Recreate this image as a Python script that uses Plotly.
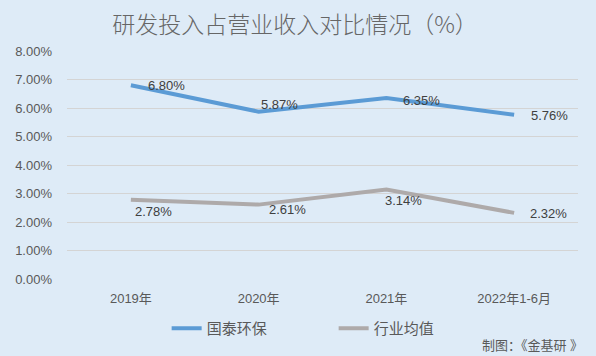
import plotly.graph_objects as go

categories = ["2019年", "2020年", "2021年", "2022年1-6月"]
guotai = [6.80, 5.87, 6.35, 5.76]
industry = [2.78, 2.61, 3.14, 2.32]
y_ticks = [0, 1, 2, 3, 4, 5, 6, 7, 8]
y_tick_labels = ["%.2f%%" % v for v in y_ticks]

BLUE = "#5B9BD5"
GRAY = "#AEAAAA"
TXT = "#595959"
BG = "#DEEBF7"
FONT = "Liberation Sans, Noto Sans CJK SC"

fig = go.Figure()
fig.add_trace(go.Scatter(x=categories, y=guotai, mode="lines", name="国泰环保",
                         line=dict(color=BLUE, width=4)))
fig.add_trace(go.Scatter(x=categories, y=industry, mode="lines", name="行业均值",
                         line=dict(color=GRAY, width=4)))

# label offsets (pixels) relative to each point
blue_off = [(15, 0), (0, 7), (15, -2), (15, -1)]
gray_off = [(2, -12), (8, -5), (-3, -11), (14, -1)]
ann = []
for c, v, (dx, dy) in zip(categories, guotai, blue_off):
    ann.append(dict(x=c, y=v, text="%.2f%%" % v, showarrow=False, xanchor="left",
                    yanchor="middle", xshift=dx, yshift=dy,
                    font=dict(size=13, color="#404040", family=FONT)))
for c, v, (dx, dy) in zip(categories, industry, gray_off):
    ann.append(dict(x=c, y=v, text="%.2f%%" % v, showarrow=False, xanchor="left",
                    yanchor="middle", xshift=dx, yshift=dy,
                    font=dict(size=13, color="#404040", family=FONT)))
ann.append(dict(x=1, y=0, xref="paper", yref="paper", xanchor="right", yanchor="middle",
                xshift=7, yshift=-66, text="制图：《金基研 》", showarrow=False,
                font=dict(size=13, color=TXT, family=FONT)))

fig.update_layout(
    width=596, height=356,
    paper_bgcolor=BG, plot_bgcolor=BG,
    margin=dict(l=67, r=18, t=51, b=76),
    title=dict(text="研发投入占营业收入对比情况（%）", x=0.495, xanchor="center",
               y=0.93, yanchor="middle",
               font=dict(size=23, color="#666666", family="Noto Sans CJK SC", weight=300)),
    xaxis=dict(showgrid=False, showline=False, zeroline=False, ticks="",
               tickfont=dict(size=13, color=TXT, family=FONT),
               ticklabelstandoff=10,
               range=[-0.5, 3.5]),
    yaxis=dict(range=[0, 8], tickvals=y_ticks, ticktext=y_tick_labels,
               showgrid=True, gridcolor="#D4D4D4", gridwidth=1, zeroline=False,
               ticklabelstandoff=14,
               ticks="", tickfont=dict(size=13, color=TXT, family=FONT)),
    legend=dict(orientation="h", x=0.195, xanchor="left", y=-0.14, yanchor="top",
                font=dict(size=15, color=TXT, family=FONT), bgcolor="rgba(0,0,0,0)",
                entrywidth=122, entrywidthmode="pixels"),
    annotations=ann,
    showlegend=True,
)
fig.write_html("out.html", config={"displayModeBar": False},
               post_script="document.body.style.margin='0px';")
